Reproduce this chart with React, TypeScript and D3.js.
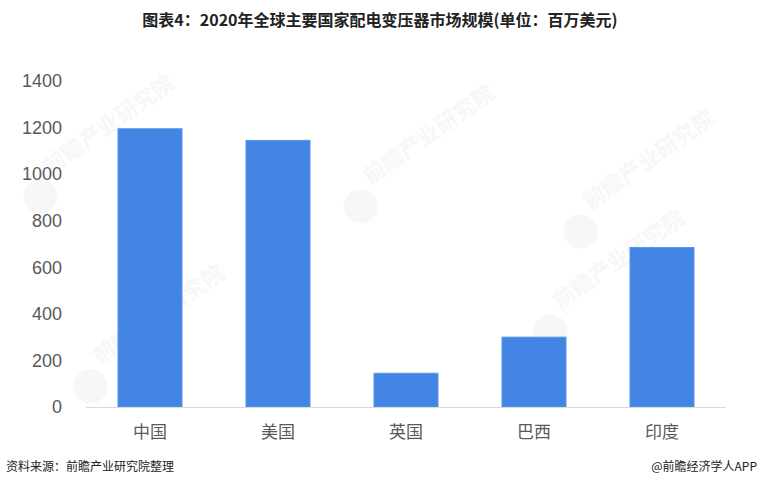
import { useMemo } from "react";
import * as d3 from "d3";

const categories = ["中国", "美国", "英国", "巴西", "印度"];
const values = [1195, 1145, 145, 300, 685];
const yTicks = [0, 200, 400, 600, 800, 1000, 1200, 1400];

const title = "图表4：2020年全球主要国家配电变压器市场规模(单位：百万美元)";
const source = "资料来源：前瞻产业研究院整理";
const credit = "@前瞻经济学人APP";

const width = 760;
const height = 488;
const font = "'Noto Sans CJK SC', 'Noto Sans', sans-serif";

export default function App() {
  const margin = { top: 81, right: 34, bottom: 81, left: 86 };

  const x = useMemo(
    () =>
      d3
        .scaleBand<string>()
        .domain(categories)
        .range([margin.left, width - margin.right])
        .paddingInner(0.5)
        .paddingOuter(0.25),
    [],
  );

  const y = useMemo(
    () =>
      d3
        .scaleLinear()
        .domain([0, 1400])
        .range([height - margin.bottom, margin.top]),
    [],
  );

  // faint watermark spots
  const marks = [
    [50, 175],
    [370, 185],
    [100, 365],
    [560, 310],
    [590, 210],
  ];

  return (
    <div style={{ position: "fixed", left: 0, top: 0, background: "#fff" }}>
      <svg width={width} height={height} style={{ display: "block" }}>
        <rect width={width} height={height} fill="#fff" />

        {/* Watermarks */}
        {marks.map(([mx, my], i) => (
          <g key={i} transform={`translate(${mx},${my}) rotate(-35)`} opacity={0.5}>
            <circle cx={-20} cy={12} r={17} fill="#eef0f4" />
            <text x={0} y={0} fontFamily={font} fontSize={22} fontWeight="bold" fill="#eef0f4">
              前瞻产业研究院
            </text>
          </g>
        ))}

        {/* Title */}
        <text
          x={width / 2}
          y={26}
          textAnchor="middle"
          fontFamily={font}
          fontSize={16}
          fontWeight="bold"
          fill="#222"
        >
          {title}
        </text>

        {/* Y tick labels */}
        {yTicks.map((t) => (
          <text
            key={t}
            x={62}
            y={y(t)}
            dy="0.35em"
            textAnchor="end"
            fontFamily="'Liberation Sans', Arial, sans-serif"
            fontSize={18}
            fill="#595959"
          >
            {t}
          </text>
        ))}

        {/* Bars */}
        {categories.map((c, i) => (
          <rect
            key={c}
            x={x(c)}
            y={y(values[i])}
            width={x.bandwidth()}
            height={y(0) - y(values[i])}
            fill="#4184e3"
            stroke="#5b97ea"
            strokeWidth={1}
          />
        ))}

        {/* Axis line */}
        <line
          x1={margin.left}
          x2={width - margin.right}
          y1={y(0) + 0.5}
          y2={y(0) + 0.5}
          stroke="#d9d9d9"
          strokeWidth={1}
        />

        {/* Category labels */}
        {categories.map((c) => (
          <text
            key={c}
            x={(x(c) ?? 0) + x.bandwidth() / 2}
            y={y(0) + 25}
            dy="0.35em"
            textAnchor="middle"
            fontFamily={font}
            fontSize={17}
            fill="#595959"
          >
            {c}
          </text>
        ))}

        {/* Footer */}
        <text x={6} y={471} fontFamily={font} fontSize={12} fill="#222">
          {source}
        </text>
        <text x={757} y={471} textAnchor="end" fontFamily={font} fontSize={12} fill="#222">
          {credit}
        </text>
      </svg>
    </div>
  );
}
